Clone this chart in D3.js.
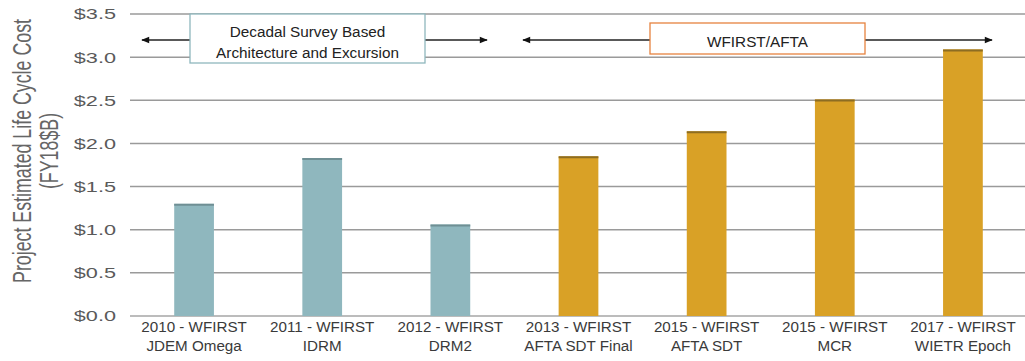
<!DOCTYPE html>
<html>
<head>
<meta charset="utf-8">
<script src="https://cdn.jsdelivr.net/npm/d3@7"></script>
<style>
  body { margin: 0; background: #fff; }
  svg { font-family: "Liberation Sans", Arial, sans-serif; display: block; }
</style>
</head>
<body>
<div id="chart"></div>
<script>
// chart data
var labelsTop = ["2010 - WFIRST", "2011 - WFIRST", "2012 - WFIRST", "2013 - WFIRST",
                 "2015 - WFIRST", "2015 - WFIRST", "2017 - WFIRST"];
var labelsBottom = ["JDEM Omega", "IDRM", "DRM2", "AFTA SDT Final",
                    "AFTA SDT", "MCR", "WIETR Epoch"];
var costs = [1.30, 1.83, 1.06, 1.85, 2.14, 2.51, 3.09];
var groups = ["decadal", "decadal", "decadal", "wfirst", "wfirst", "wfirst", "wfirst"];
var yTicks = [0, 0.5, 1.0, 1.5, 2.0, 2.5, 3.0, 3.5];

var colors = { decadal: "#8fb7be", wfirst: "#d9a126" };
var topColors = { decadal: "#6f8f94", wfirst: "#8d6d22" };

var width = 1025, height = 361;

var svg = d3.select("#chart").append("svg")
    .attr("width", width)
    .attr("height", height);

var cats = d3.range(costs.length);

var x = d3.scaleBand()
    .domain(cats)
    .range([130, 1027])
    .paddingInner(0.69)
    .paddingOuter(0.345);

var y = d3.scaleLinear()
    .domain([0, 3.5])
    .range([316, 14]);

// gridlines
svg.append("g")
  .selectAll("line")
  .data(yTicks)
  .join("line")
    .attr("x1", 130)
    .attr("x2", width)
    .attr("y1", function(d) { return y(d); })
    .attr("y2", function(d) { return y(d); })
    .attr("stroke", function(d) { return d === 0 ? "#a6a6a6" : "#9a9a9a"; })
    .attr("stroke-width", 1.5);

// y axis labels (the source glyphs are drawn wide, hence the x scale)
var yAxis = d3.axisLeft(y)
    .tickValues(yTicks)
    .tickFormat(function(d) { return "$" + d3.format(".1f")(d); })
    .tickSize(0)
    .tickPadding(0);

var gy = svg.append("g")
    .attr("transform", "translate(116,0) scale(1.4,1)")
    .call(yAxis);
gy.select(".domain").remove();
gy.selectAll("text")
    .attr("font-size", 15.5)
    .attr("fill", "#5a5a5a")
    .attr("font-family", "Liberation Sans, Arial, sans-serif");

// y title
var yTitle = svg.append("text")
    .attr("transform", "translate(31,151) scale(1.4,1) rotate(-90)")
    .attr("text-anchor", "middle")
    .attr("fill", "#666")
    .attr("font-size", 17.8);
yTitle.append("tspan").attr("x", 0).attr("dy", 0).text("Project Estimated Life Cycle Cost");
yTitle.append("tspan").attr("x", 0).attr("dy", 19.3).text("(FY18$B)");

// bars
svg.append("g")
  .selectAll("rect")
  .data(cats)
  .join("rect")
    .attr("x", function(i) { return x(i); })
    .attr("width", x.bandwidth())
    .attr("y", function(i) { return y(costs[i]); })
    .attr("height", function(i) { return y(0) - y(costs[i]); })
    .attr("fill", function(i) { return colors[groups[i]]; });

// dark top edge on each bar
svg.append("g")
  .selectAll("line")
  .data(cats)
  .join("line")
    .attr("x1", function(i) { return x(i); })
    .attr("x2", function(i) { return x(i) + x.bandwidth(); })
    .attr("y1", function(i) { return y(costs[i]) + 1; })
    .attr("y2", function(i) { return y(costs[i]) + 1; })
    .attr("stroke", function(i) { return topColors[groups[i]]; })
    .attr("stroke-width", 2);

// x labels
var xl = svg.append("g")
  .selectAll("text")
  .data(cats)
  .join("text")
    .attr("x", function(i) { return x(i) + x.bandwidth() / 2; })
    .attr("y", 332)
    .attr("text-anchor", "middle")
    .attr("font-size", 15.2)
    .attr("fill", "#3a3a3a");
xl.append("tspan")
    .attr("x", function(i) { return x(i) + x.bandwidth() / 2; })
    .text(function(i) { return labelsTop[i]; });
xl.append("tspan")
    .attr("x", function(i) { return x(i) + x.bandwidth() / 2; })
    .attr("dy", 19)
    .text(function(i) { return labelsBottom[i]; });

// arrow marker
var defs = svg.append("defs");
defs.append("marker")
    .attr("id", "arrow")
    .attr("viewBox", "0 0 10 10")
    .attr("refX", 9).attr("refY", 5)
    .attr("markerWidth", 9).attr("markerHeight", 8)
    .attr("markerUnits", "userSpaceOnUse")
    .attr("orient", "auto")
  .append("path")
    .attr("d", "M0,1 L10,5 L0,9 Z")
    .attr("fill", "#111");

// period annotations
var spans = [
  {left: 142, boxL: 190, boxR: 425, right: 487, top: 14, bottom: 63, stroke: "#8fb7be",
   lines: ["Decadal Survey Based", "Architecture and Excursion"], base: 36.5},
  {left: 523, boxL: 650, boxR: 865, right: 992, top: 23, bottom: 54, stroke: "#e6833f",
   lines: ["WFIRST/AFTA"], base: 46.5}
];
var arrowY = 40;

spans.forEach(function(s) {
  svg.append("line")
      .attr("x1", s.boxL).attr("x2", s.left)
      .attr("y1", arrowY).attr("y2", arrowY)
      .attr("stroke", "#222").attr("stroke-width", 1.3)
      .attr("marker-end", "url(#arrow)");
  svg.append("line")
      .attr("x1", s.boxR).attr("x2", s.right)
      .attr("y1", arrowY).attr("y2", arrowY)
      .attr("stroke", "#222").attr("stroke-width", 1.3)
      .attr("marker-end", "url(#arrow)");
  svg.append("rect")
      .attr("x", s.boxL).attr("y", s.top)
      .attr("width", s.boxR - s.boxL).attr("height", s.bottom - s.top)
      .attr("fill", "#fff")
      .attr("stroke", s.stroke).attr("stroke-width", 1.3);
  var cx = (s.boxL + s.boxR) / 2;
  s.lines.forEach(function(t, k) {
    svg.append("text")
        .attr("x", cx)
        .attr("y", s.base + k * 21)
        .attr("text-anchor", "middle")
        .attr("font-size", 15.3)
        .attr("fill", "#222")
        .text(t);
  });
});
</script>
</body>
</html>
